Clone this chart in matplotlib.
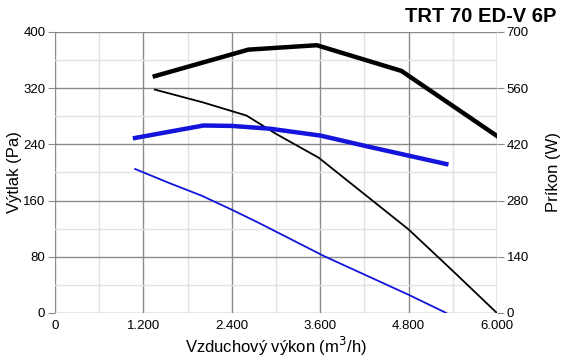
import matplotlib.pyplot as plt
from matplotlib.ticker import MultipleLocator

plt.rcParams['font.family'] = ['Liberation Sans', 'DejaVu Sans']

# pressure curves (Pa)
black_p_x = [1354, 2000, 2600, 3000, 3580, 4238, 4800, 5400, 6000]
black_p_y = [318, 300, 281, 255, 221, 166, 119, 60, 0]
blue_p_x = [1086, 1550, 1990, 2400, 2772, 3652, 4800, 5313]
blue_p_y = [205, 185, 167, 147, 128, 81, 26, 0]

# power curves (W)
black_w_x = [1354, 2625, 3554, 4703, 6000]
black_w_y = [590, 656, 667, 603, 441]
blue_w_x = [1086, 2014, 2400, 2918, 3602, 4238, 5313]
blue_w_y = [436, 467, 466, 459, 442, 415, 371]

x_ticks = [0, 1200, 2400, 3600, 4800, 6000]
x_labels = ['0', '1.200', '2.400', '3.600', '4.800', '6.000']

fig = plt.figure(figsize=(5.65, 3.58), dpi=100)
ax = fig.add_axes([0.0975, 0.1257, 0.782, 0.785])
ax2 = ax.twinx()

ax.set_xlim(0, 6000)
ax.set_ylim(0, 400)
ax2.set_ylim(0, 700)

ax.set_xticks(x_ticks)
ax.set_xticklabels(x_labels)
ax.xaxis.set_minor_locator(MultipleLocator(600))
ax.set_yticks([0, 80, 160, 240, 320, 400])
ax.yaxis.set_minor_locator(MultipleLocator(40))
ax2.set_yticks([0, 140, 280, 420, 560, 700])

ax.grid(which='major', color='#8a8a8a', lw=1)
ax.grid(which='minor', color='#e2e2e2', lw=1)
ax.set_axisbelow(True)

for a in (ax, ax2):
    for s in a.spines.values():
        s.set_visible(False)
ax.tick_params(axis='y', which='major', length=5, color='#8a8a8a', labelsize=9.5, pad=2)
ax.tick_params(axis='x', which='major', length=0, labelsize=9.5, pad=5)
ax.tick_params(which='minor', length=0)
ax2.tick_params(axis='y', length=5, color='#8a8a8a', labelsize=9.5, pad=2)

ax.plot(black_p_x, black_p_y, color='black', lw=1.3, zorder=3)
ax.plot(blue_p_x, blue_p_y, color='#1414dc', lw=1.3, zorder=3)
ax2.plot(black_w_x, black_w_y, color='black', lw=3.2, zorder=3)
ax2.plot(blue_w_x, blue_w_y, color='#1414dc', lw=3.2, zorder=3)

ax.set_xlabel('Vzduchový výkon (m$^3$/h)', fontsize=12, labelpad=2)
ax.set_ylabel('Výtlak (Pa)', fontsize=12, labelpad=1)
ax2.set_ylabel('Príkon (W)', fontsize=12, labelpad=12)

fig.text(0.985, 0.955, 'TRT 70 ED-V 6P', ha='right', va='center',
         fontsize=14.5, fontweight='bold')

fig.savefig('out.png', dpi=100)
